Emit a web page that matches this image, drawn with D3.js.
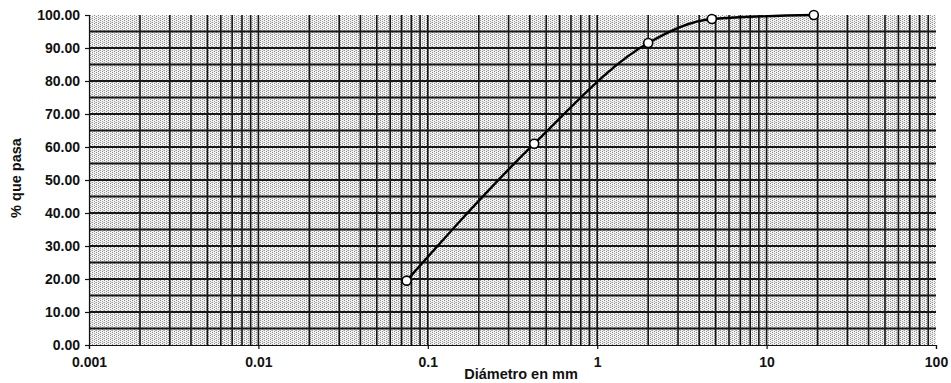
<!DOCTYPE html>
<html>
<head>
<meta charset="utf-8">
<script src="https://cdn.jsdelivr.net/npm/d3@7"></script>
<style>
  body { margin: 0; background: #fff; }
  text { font-family: "Liberation Sans", Arial, sans-serif; font-weight: bold; fill: #111; }
</style>
</head>
<body>
<svg id="chart" width="951" height="383"></svg>
<script>
// granulometria: diametro (mm) vs % que pasa
var diametros = [0.075, 0.425, 2.0, 4.75, 19.0];
var pasa = [19.5, 61.0, 91.5, 98.8, 100.0];
var xTicks = [0.001, 0.01, 0.1, 1, 10, 100];
var yTicks = [0, 10, 20, 30, 40, 50, 60, 70, 80, 90, 100];

var margin = { left: 89, right: 15, top: 15, bottom: 38 };
var width = 951, height = 383;

var svg = d3.select("#chart");

var x = d3.scaleLog().domain([0.001, 100]).range([margin.left, width - margin.right]);
var y = d3.scaleLinear().domain([0, 100]).range([height - margin.bottom, margin.top]);

// stippled background like the printed paper
var defs = svg.append("defs");
var pat = defs.append("pattern")
  .attr("id", "dots").attr("width", 4).attr("height", 4)
  .attr("patternUnits", "userSpaceOnUse");
pat.append("rect").attr("width", 4).attr("height", 4).attr("fill", "#f2f2f2");
[[0, 0, "#8a8a8a"], [2, 1, "#a0a0a0"], [0, 2, "#9a9a9a"], [2, 3, "#8a8a8a"], [3, 2, "#c4c4c4"]].forEach(function(p) {
  pat.append("rect").attr("x", p[0]).attr("y", p[1]).attr("width", 1).attr("height", 1).attr("fill", p[2]);
});

svg.append("rect")
  .attr("x", x(0.001)).attr("y", y(100))
  .attr("width", x(100) - x(0.001)).attr("height", y(0) - y(100))
  .attr("fill", "url(#dots)");

// vertical grid (log minor lines)
var vLines = [];
for (var d = -3; d < 2; d++) {
  for (var m = 1; m <= 9; m++) {
    var v = m * Math.pow(10, d);
    if (v > 0.001) vLines.push(v);
  }
}
svg.append("g").selectAll("line").data(vLines).join("line")
  .attr("x1", function(d) { return x(d); }).attr("x2", function(d) { return x(d); })
  .attr("y1", y(0)).attr("y2", y(100))
  .attr("stroke", "#151515").attr("stroke-width", 1.6);

// horizontal grid every 5
svg.append("g").selectAll("line").data(d3.range(5, 100, 5)).join("line")
  .attr("x1", x(0.001)).attr("x2", x(100))
  .attr("y1", function(d) { return y(d); }).attr("y2", function(d) { return y(d); })
  .attr("stroke", "#151515").attr("stroke-width", 1.8);

// axes
var yAxis = d3.axisLeft(y).tickValues(yTicks).tickSize(4).tickPadding(5)
  .tickFormat(d3.format(".2f"));
var gy = svg.append("g").attr("transform", "translate(" + x(0.001) + ",0)").call(yAxis);
gy.selectAll("text").style("font-size", "14px");

var xAxis = d3.axisBottom(x).tickValues(xTicks).tickSize(4).tickPadding(8)
  .tickFormat(function(d) { return String(d); });
var gx = svg.append("g").attr("transform", "translate(0," + y(0) + ")").call(xAxis);
gx.selectAll("text").style("font-size", "14px");

svg.selectAll(".domain, .tick line").attr("stroke", "#111").attr("stroke-width", 1.2);

// axis titles
svg.append("text")
  .attr("transform", "translate(21,178) rotate(-90)")
  .attr("text-anchor", "middle").style("font-size", "14.5px")
  .text("% que pasa");
svg.append("text")
  .attr("x", 521).attr("y", 379)
  .attr("text-anchor", "middle").style("font-size", "14.5px")
  .text("Diámetro en mm");

// curve
var pts = diametros.map(function(d, i) { return [d, pasa[i]]; });
var line = d3.line()
  .x(function(d) { return x(d[0]); })
  .y(function(d) { return y(d[1]); })
  .curve(d3.curveMonotoneX);

svg.append("path").datum(pts)
  .attr("d", line).attr("fill", "none")
  .attr("stroke", "#000").attr("stroke-width", 2.4);

svg.append("g").selectAll("circle").data(pts).join("circle")
  .attr("cx", function(d) { return x(d[0]); })
  .attr("cy", function(d) { return y(d[1]); })
  .attr("r", 4.5)
  .attr("fill", "#fff").attr("stroke", "#000").attr("stroke-width", 1.6);
</script>
</body>
</html>
